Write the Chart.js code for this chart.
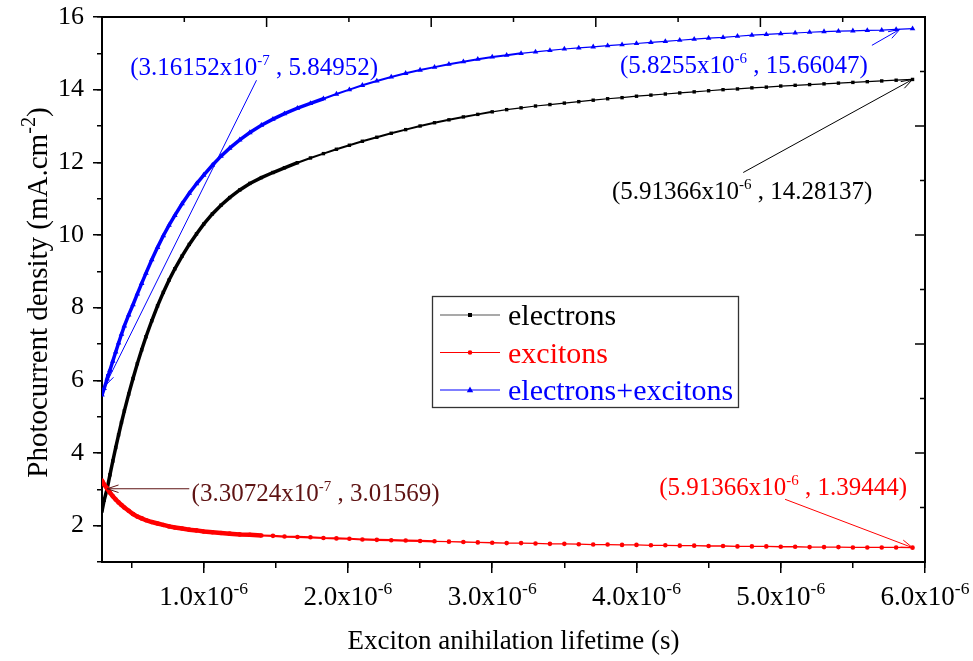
<!DOCTYPE html>
<html><head><meta charset="utf-8">
<script src="https://cdn.jsdelivr.net/npm/chart.js@4.4.1/dist/chart.umd.min.js"></script>
<style>html,body{margin:0;padding:0;background:#fff;}canvas{display:block;}</style>
</head><body>
<canvas id="c" width="973" height="661"></canvas>
<script>
// ---------------- data (x in units of 1e-6 s) ----------------
const lifetimeMicroSec = [0.295, 0.31, 0.331, 0.35, 0.37, 0.39, 0.41, 0.43, 0.45, 0.48, 0.51, 0.54, 0.57, 0.6, 0.64, 0.68, 0.72, 0.76, 0.8, 0.85, 0.9, 0.95, 1.0,
  1.06, 1.12, 1.18, 1.25, 1.32, 1.4, 1.48, 1.56, 1.65, 1.74, 1.83, 1.92, 2.01, 2.1,
  2.2, 2.3, 2.4, 2.5, 2.6, 2.7, 2.8, 2.9, 3.0, 3.1, 3.2, 3.3, 3.4, 3.5, 3.6, 3.7, 3.8, 3.9, 4.0,
  4.1, 4.2, 4.3, 4.4, 4.5, 4.6, 4.7, 4.8, 4.9, 5.0, 5.1, 5.2, 5.3, 5.4, 5.5, 5.6, 5.7, 5.8, 5.91366];

const electrons = [2.4, 2.7, 3.02, 3.4, 3.78, 4.15, 4.5, 4.84, 5.16, 5.62, 6.05, 6.46, 6.84, 7.2, 7.64, 8.05, 8.42, 8.76, 9.07, 9.42, 9.74, 10.03, 10.3,
  10.58, 10.82, 11.03, 11.24, 11.42, 11.58, 11.72, 11.85, 11.99, 12.12, 12.24, 12.36, 12.47, 12.58,
  12.69, 12.8, 12.9, 13.0, 13.09, 13.17, 13.25, 13.32, 13.39, 13.45, 13.5, 13.55, 13.59, 13.63, 13.67, 13.71, 13.75, 13.78, 13.82,
  13.85, 13.88, 13.91, 13.94, 13.97, 14.0, 14.02, 14.05, 14.07, 14.1, 14.12, 14.14, 14.16, 14.18, 14.2, 14.22, 14.24, 14.26, 14.28137];

const excitons = [3.24, 3.13, 3.02, 2.91, 2.81, 2.72, 2.64, 2.57, 2.5, 2.41, 2.32, 2.25, 2.2, 2.15, 2.1, 2.06, 2.02, 1.98, 1.95, 1.92, 1.89, 1.87, 1.84,
  1.82, 1.8, 1.78, 1.76, 1.75, 1.73, 1.72, 1.7, 1.69, 1.68, 1.66, 1.65, 1.64, 1.62,
  1.61, 1.6, 1.59, 1.58, 1.57, 1.56, 1.55, 1.54, 1.53, 1.52, 1.52, 1.51, 1.5, 1.5, 1.49, 1.48, 1.48, 1.47, 1.47,
  1.46, 1.46, 1.45, 1.45, 1.44, 1.44, 1.43, 1.43, 1.43, 1.42, 1.42, 1.41, 1.41, 1.41, 1.4, 1.4, 1.4, 1.4, 1.39444];

const electronsPlusExcitons = [5.6, 5.78, 6.04, 6.28, 6.53, 6.78, 7.03, 7.27, 7.5, 7.8, 8.08, 8.38, 8.67, 8.95, 9.32, 9.66, 9.98, 10.27, 10.54, 10.86, 11.15, 11.41, 11.65,
  11.92, 12.17, 12.39, 12.62, 12.82, 13.02, 13.19, 13.34, 13.49, 13.62, 13.75, 13.88, 14.0, 14.12,
  14.24, 14.35, 14.45, 14.54, 14.62, 14.7, 14.77, 14.84, 14.9, 14.95, 15.0, 15.04, 15.08, 15.12, 15.15, 15.18, 15.21, 15.24, 15.27,
  15.3, 15.33, 15.36, 15.39, 15.42, 15.44, 15.47, 15.5, 15.52, 15.54, 15.56, 15.58, 15.6, 15.61, 15.62, 15.63, 15.64, 15.66, 15.68];

const seriesNames = ['electrons', 'excitons', 'electrons+excitons'];
const xTickExponent = '-6';
const xTitle = 'Exciton anihilation lifetime (s)';
const yTitle = ['Photocurrent density (mA.cm', '-2', ')'];

// annotation labels: [text, superscript, text], text anchor, arrow start, arrow tip (data units)
const annotations = [
  {color: '#0000ff', text: ['(3.16152x10', '-7', ' , 5.84952)'], at: [0.491, 14.64], from: [1.366, 14.26], to: [0.316152, 5.84952]},
  {color: '#5e1313', text: ['(3.30724x10', '-7', ' , 3.01569)'], at: [0.916, 2.92], from: [0.9, 3.01569], to: [0.330724, 3.01569]},
  {color: '#000000', text: ['(5.91366x10', '-6', ' , 14.28137)'], at: [3.83, 11.23], from: [4.74, 11.72], to: [5.91366, 14.28137]},
  {color: '#0000ff', text: ['(5.8255x10', '-6', ' , 15.66047)'], at: [3.885, 14.70], from: [5.632, 15.22], to: [5.8255, 15.66047]},
  {color: '#ff0000', text: ['(5.91366x10', '-6', ' , 1.39444)'], at: [4.158, 3.084], from: [5.03, 2.726], to: [5.91366, 1.39444]}
];

// ---------------- drawing helpers ----------------
const FONT = "'Liberation Serif','Times New Roman',Times,serif";
Chart.defaults.font.family = FONT;
Chart.defaults.color = '#000';

function drawRich(ctx, parts, x, y, size, color, align, supRatio) {
  ctx.save();
  ctx.fillStyle = color;
  ctx.textBaseline = 'alphabetic';
  ctx.textAlign = 'left';
  const ws = parts.map(p => { ctx.font = (p.sup ? size * supRatio : size) + 'px ' + FONT; return ctx.measureText(p.t).width; });
  const total = ws.reduce((a, b) => a + b, 0);
  let cx = align === 'center' ? x - total / 2 : (align === 'right' ? x - total : x);
  parts.forEach((p, i) => {
    ctx.font = (p.sup ? size * supRatio : size) + 'px ' + FONT;
    ctx.fillText(p.t, cx, p.sup ? y - size * 0.4 : y);
    cx += ws[i];
  });
  ctx.restore();
}

function drawArrow(ctx, x0, y0, x1, y1, color) {
  const head = 12, spread = 0.32;
  ctx.save();
  ctx.strokeStyle = color; ctx.lineWidth = 1;
  ctx.beginPath(); ctx.moveTo(x0, y0); ctx.lineTo(x1, y1); ctx.stroke();
  const a = Math.atan2(y1 - y0, x1 - x0);
  ctx.beginPath();
  ctx.moveTo(x1 - head * Math.cos(a - spread), y1 - head * Math.sin(a - spread));
  ctx.lineTo(x1, y1);
  ctx.lineTo(x1 - head * Math.cos(a + spread), y1 - head * Math.sin(a + spread));
  ctx.stroke();
  ctx.restore();
}

function marker(ctx, style, x, y, color) {
  ctx.save(); ctx.fillStyle = color; ctx.beginPath();
  if (style === 'rect') ctx.rect(x - 2, y - 2, 4, 4);
  else if (style === 'circle') ctx.arc(x, y, 2.3, 0, Math.PI * 2);
  else { ctx.moveTo(x, y - 3.4); ctx.lineTo(x + 3.2, y + 2.2); ctx.lineTo(x - 3.2, y + 2.2); ctx.closePath(); }
  ctx.fill(); ctx.restore();
}

const decor = {
  id: 'decor',
  afterDraw(chart) {
    const ctx = chart.ctx, xs = chart.scales.x, ys = chart.scales.y, ca = chart.chartArea;
    const X = v => xs.getPixelForValue(v), Y = v => ys.getPixelForValue(v);
    // top and right frame with inward ticks (10 divisions, longer every second one)
    ctx.save();
    ctx.strokeStyle = '#000'; ctx.lineWidth = 2;
    ctx.beginPath();
    ctx.moveTo(ca.left - 1, ca.top); ctx.lineTo(ca.right + 1, ca.top);
    ctx.moveTo(ca.right, ca.top - 1); ctx.lineTo(ca.right, ca.bottom + 1);
    ctx.stroke();
    ctx.lineWidth = 1.5;
    ctx.beginPath();
    for (let k = 1; k < 10; k++) {
      const len = k % 2 === 0 ? 10 : 5;
      const tx = ca.left + k * (ca.right - ca.left) / 10;
      ctx.moveTo(tx, ca.top); ctx.lineTo(tx, ca.top + len);
      const ty = ca.bottom - k * (ca.bottom - ca.top) / 10;
      ctx.moveTo(ca.right, ty); ctx.lineTo(ca.right - len, ty);
    }
    ctx.stroke();
    ctx.restore();
    // x tick labels
    xs.ticks.forEach(t => {
      drawRich(ctx, [{t: t.value.toFixed(1) + 'x10'}, {t: xTickExponent, sup: true}], X(t.value), 605, 27, '#000', 'center', 0.65);
    });
    // x title
    drawRich(ctx, [{t: xTitle}], (ca.left + ca.right) / 2, 649, 27, '#000', 'center', 0.65);
    // y title
    ctx.save();
    ctx.translate(47, (ca.top + ca.bottom) / 2 + 3);
    ctx.rotate(-Math.PI / 2);
    drawRich(ctx, [{t: yTitle[0]}, {t: yTitle[1], sup: true}, {t: yTitle[2]}], 0, 0, 29, '#000', 'center', 0.7);
    ctx.restore();
    // annotations
    annotations.forEach(a => {
      drawArrow(ctx, X(a.from[0]), Y(a.from[1]), X(a.to[0]), Y(a.to[1]), a.color);
      drawRich(ctx, [{t: a.text[0]}, {t: a.text[1], sup: true}, {t: a.text[2]}], X(a.at[0]), Y(a.at[1]) + 8.5, 25, a.color, 'left', 0.6);
    });
    // legend
    const lx = 432, ly = 296, lw = 306, lh = 111;
    ctx.save();
    ctx.fillStyle = '#fff'; ctx.fillRect(lx, ly, lw, lh);
    ctx.strokeStyle = '#333'; ctx.lineWidth = 1.3; ctx.strokeRect(lx + 0.5, ly + 0.5, lw, lh);
    const cols = ['#000000', '#ff0000', '#0000ff'], lineCols = ['#555555', '#ff0000', '#0000ff'], styles = ['rect', 'circle', 'triangle'];
    seriesNames.forEach((name, i) => {
      const y = ly + 19 + i * 37.5;
      ctx.strokeStyle = lineCols[i]; ctx.lineWidth = 1.2;
      ctx.beginPath(); ctx.moveTo(lx + 8, y); ctx.lineTo(lx + 68, y); ctx.stroke();
      marker(ctx, styles[i], lx + 38, y, cols[i]);
      ctx.font = '30px ' + FONT; ctx.fillStyle = cols[i]; ctx.textAlign = 'left'; ctx.textBaseline = 'alphabetic';
      ctx.fillText(name, lx + 76, y + 10);
    });
    ctx.restore();
  }
};

// ---------------- axes ----------------
const X_MIN = 0.295, X_MAX = 6.0, Y_MIN = 1, Y_MAX = 16;
function axis(pos, weight, min, max, step, tickLen, size, showBorder, extra) {
  const horizontal = pos === 'top' || pos === 'bottom';
  return Object.assign({
    type: 'linear', position: pos, weight, min, max,
    ticks: {stepSize: step, includeBounds: false, display: false},
    grid: {drawOnChartArea: false, drawTicks: true, tickLength: tickLen, color: '#000', lineWidth: 1.5},
    border: {display: showBorder, color: '#000', width: 2},
    afterFit: s => {
      if (horizontal) s.height = size; else s.width = size;
      s.paddingTop = 0; s.paddingBottom = 0; s.paddingLeft = 0; s.paddingRight = 0;
    }
  }, extra || {});
}

const mkData = ys => lifetimeMicroSec.map((x, i) => ({x, y: ys[i]}));
// line weight: dense-marker band where the original markers overlap, thinner further out
const bandWidth = (thick, mid, thin) => c => {
  const x = lifetimeMicroSec[c.p0DataIndex];
  return x < thick ? 3.5 : (x < mid ? 2 : thin);
};

new Chart(document.getElementById('c'), {
  type: 'line',
  data: {
    datasets: [
      {label: seriesNames[0], data: mkData(electrons), borderColor: '#000', backgroundColor: '#000', pointStyle: 'rect', pointRadius: 2.4, pointBorderWidth: 0, borderWidth: 1, order: 1,
        segment: {borderWidth: bandWidth(1.6, 3.0, 1.2)}},
      {label: seriesNames[1], data: mkData(excitons), borderColor: '#ff0000', backgroundColor: '#ff0000', pointStyle: 'circle', pointRadius: 2.3, pointBorderWidth: 0, borderWidth: 1, order: 0,
        segment: {borderWidth: c => lifetimeMicroSec[c.p0DataIndex] < 1.4 ? 4.5 : (lifetimeMicroSec[c.p0DataIndex] < 2.6 ? 2.2 : 1.3)}},
      {label: seriesNames[2], data: mkData(electronsPlusExcitons), borderColor: '#0000ff', backgroundColor: '#0000ff', pointStyle: 'triangle', pointRadius: 3.2, pointBorderWidth: 0, borderWidth: 1, order: 2,
        segment: {borderWidth: bandWidth(1.8, 3.2, 1.2)}}
    ]
  },
  options: {
    responsive: false, animation: false, devicePixelRatio: 1,
    layout: {padding: {top: 17, right: 48, left: 0, bottom: 0}},
    plugins: {legend: {display: false}, tooltip: {enabled: false}},
    scales: {
      x: axis('bottom', 1, X_MIN, X_MAX, 1, 11, 99, true),
      xMinor: axis('bottom', 0, X_MIN, X_MAX, 0.5, 6, 0, false),
      y: axis('left', 1, Y_MIN, Y_MAX, 2, 9, 102, true, {
        ticks: {stepSize: 2, includeBounds: false, display: true, color: '#000', padding: 9, font: {size: 26, family: FONT}}
      }),
      yMinor: axis('left', 0, Y_MIN, Y_MAX, 1, 5, 0, false)
    }
  },
  plugins: [decor]
});
</script>
</body></html>
